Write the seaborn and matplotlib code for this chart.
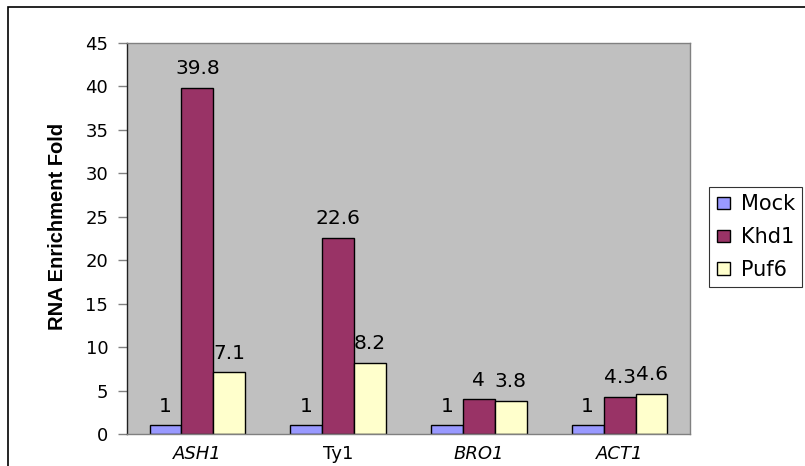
import matplotlib
matplotlib.use("Agg")
import matplotlib.pyplot as plt
from matplotlib.patches import Rectangle
import seaborn as sns
import pandas as pd

# Data
genes = ["ASH1", "Ty1", "BRO1", "ACT1"]
italic_genes = ["ASH1", "BRO1", "ACT1"]
samples = ["Mock", "Khd1", "Puf6"]
mock = [1, 1, 1, 1]
khd1 = [39.8, 22.6, 4, 4.3]
puf6 = [7.1, 8.2, 3.8, 4.6]
y_ticks = [0, 5, 10, 15, 20, 25, 30, 35, 40, 45]

colors = ["#9999FF", "#993366", "#FFFFCC"]

rows = []
for s, vals in zip(samples, [mock, khd1, puf6]):
    for g, v in zip(genes, vals):
        rows.append({"gene": g, "sample": s, "fold": v})
df = pd.DataFrame(rows)

sns.set_theme(style="white")
plt.rcParams["font.family"] = ["DejaVu Sans"]
plt.rcParams["text.color"] = "black"
plt.rcParams["axes.labelcolor"] = "black"

fig = plt.figure(figsize=(8.05, 4.66), dpi=100)
ax = fig.add_axes([127 / 805, 1 - 434 / 466, (690 - 127) / 805, (434 - 43) / 466])

sns.barplot(data=df, x="gene", y="fold", hue="sample", order=genes,
            hue_order=samples, palette=colors, width=0.68,
            edgecolor="black", linewidth=1.0, saturation=1, ax=ax)

ax.set_facecolor("#C0C0C0")
ax.set_ylim(0, 45)
ax.set_xlim(-0.5, 3.5)
ax.set_yticks(y_ticks)
ax.tick_params(axis="y", which="both", left=True, length=6.5, width=1,
               color="#808080", labelcolor="black", labelsize=13, pad=7)
ax.tick_params(axis="x", bottom=False, length=0, labelcolor="black",
               labelsize=13, pad=8)
for lbl in ax.get_xticklabels():
    if lbl.get_text() in italic_genes:
        lbl.set_fontstyle("italic")
for name, sp in ax.spines.items():
    sp.set_color("#808080")
    sp.set_linewidth(1)
ax.spines["left"].set_color("#202020")
ax.set_xlabel("")
ax.set_ylabel("RNA Enrichment Fold", fontsize=14.5, fontweight="bold",
              family=["Liberation Sans", "DejaVu Sans"])
ax.yaxis.set_label_coords(-0.1066, 0.531)

for cont in ax.containers:
    ax.bar_label(cont, labels=[f"{b.get_height():g}" for b in cont],
                 padding=7, fontsize=14.5, color="black")

leg = ax.legend(loc="upper left", bbox_to_anchor=(709 / 805, 1 - 187 / 466),
                bbox_transform=fig.transFigure, frameon=True, fancybox=False,
                edgecolor="black", fontsize=15, handlelength=0.63,
                handleheight=0.53, handletextpad=0.53, labelspacing=0.61,
                borderpad=0.36, borderaxespad=0)
leg.get_frame().set_linewidth(0.8)
for t in leg.get_texts():
    t.set_color("black")

# Outer chart border
fig.patches.append(Rectangle((8 / 805, -0.05), 1.2, 1 - 7 / 466 + 0.05,
                             transform=fig.transFigure, fill=False,
                             edgecolor="black", linewidth=1.2))

fig.savefig("out.png", dpi=100)
